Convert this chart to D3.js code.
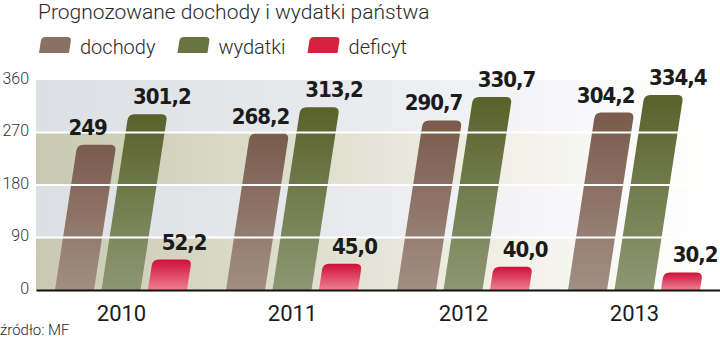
<!DOCTYPE html>
<html>
<head>
<meta charset="utf-8">
<script src="https://cdn.jsdelivr.net/npm/d3@7"></script>
<style>
  body { margin: 0; background: #fff; }
  svg { display: block; }
</style>
</head>
<body>
<div id="chart"></div>
<script>
var years = ["2010", "2011", "2012", "2013"]
var series = ["dochody", "wydatki", "deficyt"]
var dochody = [249, 268.2, 290.7, 304.2]
var wydatki = [301.2, 313.2, 330.7, 334.4]
var deficyt = [52.2, 45.0, 40.0, 30.2]
var dochodyLabels = ["249", "268,2", "290,7", "304,2"]
var wydatkiLabels = ["301,2", "313,2", "330,7", "334,4"]
var deficytLabels = ["52,2", "45,0", "40,0", "30,2"]
var yTicks = [0, 90, 180, 270, 360]

var W = 720, H = 340
var plotLeft = 36, plotRight = 720, plotTop = 80, plotBottom = 290
var slant = 0.153

var svg = d3.select("#chart").append("svg")
  .attr("width", W).attr("height", H)

var defs = svg.append("defs")

var x0 = d3.scaleBand().domain(years).range([plotLeft, plotRight])
var x1 = d3.scaleBand().domain(series).range([19, 151]).paddingInner(0.16)
var y = d3.scaleLinear().domain([0, 360]).range([plotBottom, plotTop])

// background bands, fading to white on the right
var bandGrad = [
  { id: "bandBeige", stops: [["0%", "#c8c9b0"], ["45%", "#e2e2d3"], ["80%", "#f7f7f1"], ["100%", "#ffffff"]] },
  { id: "bandGray", stops: [["0%", "#dcdfe3"], ["45%", "#e8eaed"], ["80%", "#f8f8fa"], ["100%", "#ffffff"]] }
]
bandGrad.forEach(function(g) {
  var lg = defs.append("linearGradient").attr("id", g.id)
    .attr("gradientUnits", "userSpaceOnUse")
    .attr("x1", plotLeft).attr("x2", plotRight).attr("y1", 0).attr("y2", 0)
  g.stops.forEach(function(s) {
    lg.append("stop").attr("offset", s[0]).attr("stop-color", s[1])
  })
})

svg.append("g").selectAll("rect")
  .data(yTicks.slice(0, -1))
  .enter().append("rect")
  .attr("x", plotLeft)
  .attr("width", plotRight - plotLeft)
  .attr("y", function(d) { return y(d + 90) })
  .attr("height", function(d) { return y(d) - y(d + 90) })
  .attr("fill", function(d, i) { return i % 2 == 0 ? "url(#bandBeige)" : "url(#bandGray)" })

// bar gradients
var barColors = {
  dochody: ["#7a5b4c", "#a38e84"],
  wydatki: ["#59622a", "#8e9772"],
  deficyt: ["#cf0f3a", "#ef8090"]
}
series.forEach(function(s) {
  var lg = defs.append("linearGradient").attr("id", "g_" + s)
    .attr("x1", 0).attr("x2", 0).attr("y1", 0).attr("y2", 1)
  lg.append("stop").attr("offset", "0%").attr("stop-color", barColors[s][0])
  lg.append("stop").attr("offset", "100%").attr("stop-color", barColors[s][1])
})

// slanted bar with rounded top corners
function barPath(xb, w, yb, yt, r) {
  var h = yb - yt
  r = Math.min(r, h / 2)
  var s = slant * h
  var sr = s * (h - r) / h
  return "M" + xb + "," + yb +
    "L" + (xb + sr) + "," + (yt + r) +
    "Q" + (xb + s) + "," + yt + " " + (xb + s + r) + "," + yt +
    "L" + (xb + s + w - r) + "," + yt +
    "Q" + (xb + s + w) + "," + yt + " " + (xb + w + sr) + "," + (yt + r) +
    "L" + (xb + w) + "," + yb + "Z"
}

var values = { dochody: dochody, wydatki: wydatki, deficyt: deficyt }
var labels = { dochody: dochodyLabels, wydatki: wydatkiLabels, deficyt: deficytLabels }
var labelShift = { dochody: -9, wydatki: 14, deficyt: 12 }

var data = []
years.forEach(function(yr, i) {
  series.forEach(function(s) {
    data.push({ year: yr, key: s, value: values[s][i], label: labels[s][i] })
  })
})

svg.append("g").selectAll("path")
  .data(data)
  .enter().append("path")
  .attr("d", function(d) {
    return barPath(x0(d.year) + x1(d.key), x1.bandwidth(), y(0), y(d.value), 6)
  })
  .attr("fill", function(d) { return "url(#g_" + d.key + ")" })

// white grid lines over the bars
svg.append("g").selectAll("line")
  .data([90, 180, 270])
  .enter().append("line")
  .attr("x1", plotLeft).attr("x2", plotRight)
  .attr("y1", function(d) { return y(d) }).attr("y2", function(d) { return y(d) })
  .attr("stroke", "#fff").attr("stroke-width", 2)

// value labels
svg.append("g").selectAll("text")
  .data(data)
  .enter().append("text")
  .attr("x", function(d) {
    var h = y(0) - y(d.value)
    return x0(d.year) + x1(d.key) + x1.bandwidth() / 2 + slant * h + labelShift[d.key]
  })
  .attr("y", function(d) { return y(d.value) - 10 })
  .attr("text-anchor", "middle")
  .style("font-family", "'DejaVu Sans Condensed', 'DejaVu Sans', sans-serif")
  .style("font-weight", "bold")
  .style("font-size", "22px")
  .style("letter-spacing", "-1px")
  .style("fill", "#1b1b1b")
  .text(function(d) { return d.label })

// y axis
var yAxis = svg.append("g")
  .attr("transform", "translate(" + plotLeft + ",0)")
  .call(d3.axisLeft(y).tickValues(yTicks).tickSize(0).tickPadding(7))
yAxis.select(".domain").remove()
yAxis.selectAll("text")
  .attr("dy", "0.2em")
  .style("font-family", "Roboto, sans-serif")
  .style("font-weight", 300)
  .style("font-size", "16px")
  .style("fill", "#333")

// x axis
var xAxis = svg.append("g")
  .attr("transform", "translate(0," + plotBottom + ")")
  .call(d3.axisBottom(x0).tickSize(0).tickPadding(15))
xAxis.select(".domain")
  .attr("stroke", "#111").attr("stroke-width", 2)
xAxis.selectAll("text")
  .style("font-family", "Roboto, sans-serif")
  .style("font-size", "22px")
  .style("fill", "#1b1b1b")

// title
svg.append("text")
  .attr("x", 38).attr("y", 19)
  .style("font-family", "Roboto, sans-serif")
  .style("font-weight", 300)
  .style("font-size", "21px")
  .style("fill", "#2a2a2a")
  .text("Prognozowane dochody i wydatki państwa")

// legend
var legendColors = { dochody: "#8a7163", wydatki: "#6a7440", deficyt: "#d8203f" }
var lx = 39
series.forEach(function(s) {
  svg.append("path")
    .attr("d", barPath(lx, 30, 53, 37, 4))
    .attr("fill", legendColors[s])
  var t = svg.append("text")
    .attr("x", lx + 41).attr("y", 54)
    .style("font-family", "Roboto, sans-serif")
    .style("font-weight", 300)
    .style("font-size", "20px")
    .style("fill", "#2a2a2a")
    .text(s)
  lx = lx + 41 + t.node().getComputedTextLength() + 22
})

// source
svg.append("text")
  .attr("x", 0).attr("y", 335)
  .style("font-family", "Roboto, sans-serif")
  .style("font-weight", 300)
  .style("font-size", "15px")
  .style("fill", "#2a2a2a")
  .text("źródło: MF")
</script>
</body>
</html>
